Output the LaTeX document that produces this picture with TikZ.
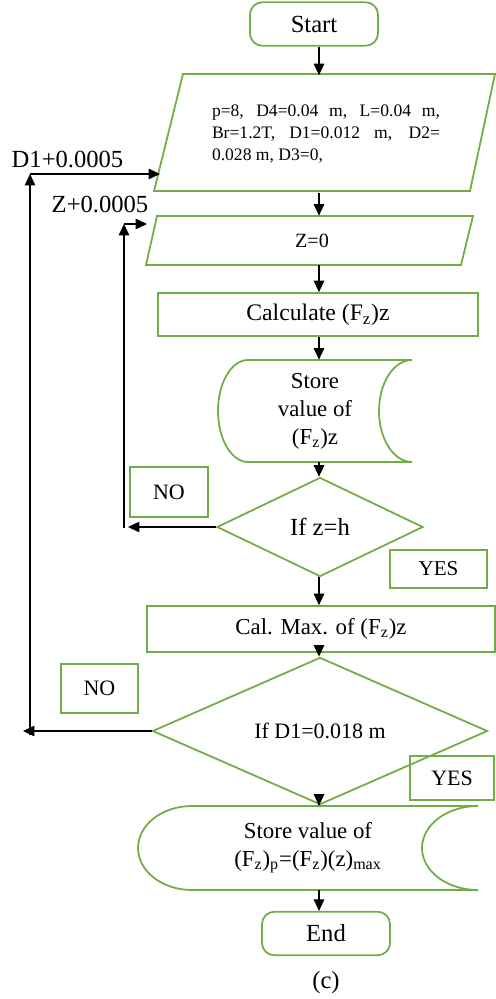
\documentclass[tikz,border=0pt]{standalone}
\usepackage{fontspec}
\setmainfont{Liberation Serif}
\usetikzlibrary{arrows.meta, shapes.geometric}
\definecolor{flowgreen}{RGB}{112,173,71}
\tikzset{
    flow/.style={draw=flowgreen, line width=1pt}, % green outlines
    term/.style={flow, rounded corners=7pt, minimum width=2.56cm, minimum height=0.87cm},
    proc/.style={flow, rectangle, font=\fontsize{13.5}{16}\selectfont},
    cond/.style={flow, diamond, inner sep=0pt},
    tag/.style={flow, rectangle, inner sep=0pt, font=\fontsize{12.5}{15}\selectfont},
    shapetext/.style={inner sep=0pt, align=center},
    arr/.style={-{Triangle[length=6.5pt, width=6pt]}, line width=0.6pt}
}

\begin{document}
\begin{tikzpicture}[x=0.2mm, y=-0.2mm, font=\fontsize{14}{16}\selectfont]
    \useasboundingbox (0,0) rectangle (496,999);
    \coordinate (axis) at (319,0);

    % terminals
    \node[term] (start) at (314,24) {Start};
    \node[term] (end) at (326,933.5) {End};

    % input data
    \draw[flow] (183,74) -- (495,74) -- (470,191) -- (154,191) -- cycle;
    \node[shapetext, align=left, minimum height=2.34cm, font=\fontsize{10}{12.5}\selectfont] (input) at (326,134) {\makebox[4.56cm][s]{p=8, D4=0.04 m, L=0.04 m,}\\\makebox[4.56cm][s]{Br=1.2T, D1=0.012 m, D2=}\\0.028 m, D3=0,};

    \draw[flow] (157,216) -- (473,216) -- (461,265) -- (146,265) -- cycle;
    \node[shapetext, minimum height=0.98cm, font=\fontsize{11.5}{14}\selectfont] (zinit) at (312,240.5) {Z=0};

    \node[proc, minimum width=6.4cm, minimum height=0.86cm] (calc) at (318,314.5) {Calculate (F\textsubscript{z})z};

    % stored data
    \draw[flow] (248,360) -- (412,360) arc[start angle=90, end angle=270, x radius=6.6mm, y radius=10.2mm] -- (248,462) arc[start angle=270, end angle=90, x radius=6mm, y radius=10.2mm] -- cycle;
    \node[shapetext, minimum height=2.04cm, font=\fontsize{13}{16}\selectfont] (store) at (315,411) {Store\\value of\\(F\textsubscript{z})z};

    \node[cond, minimum width=4.12cm, minimum height=1.98cm, font=\fontsize{14}{16}\selectfont] (zcheck) at (320,527) {If z=h};
    \node[tag, minimum width=1.56cm, minimum height=1cm] (zno) at (169,492) {NO};
    \node[tag, minimum width=1.94cm, minimum height=0.76cm, font=\fontsize{12}{14}\selectfont] (zyes) at (438.5,569) {YES};

    \node[proc, minimum width=6.96cm, minimum height=0.92cm, font=\fontsize{13}{16}\selectfont] (calmax) at (321,629) {Cal. Max. of (F\textsubscript{z})z};

    \node[cond, minimum width=6.7cm, minimum height=1.84cm, font=\fontsize{12.5}{15}\selectfont] (dcheck) at (320,731) {If D1=0.018 m};
    \node[tag, minimum width=1.54cm, minimum height=0.98cm] (dno) at (99.5,688.5) {NO};
    \node[tag, minimum width=1.68cm, minimum height=0.88cm] (dyes) at (452,778) {YES};

    \draw[flow] (192,806) -- (478,806) arc[start angle=90, end angle=270, x radius=11.2mm, y radius=8.4mm] -- (192,890) arc[start angle=270, end angle=90, x radius=10.8mm, y radius=8.4mm] -- cycle;
    \node[shapetext, minimum height=1.68cm, font=\fontsize{13}{16}\selectfont] (result) at (308,848) {Store value of\\(F\textsubscript{z})\textsubscript{p}=(F\textsubscript{z})(z)\textsubscript{max}};

    % loop labels and caption
    \node (dstep) at (67.5,159) {D1+0.0005};
    \node (zstep) at (100,204) {Z+0.0005};
    \node (caption) at (326,983) {(c)};

    % main flow
    \foreach \a/\b in {start/input, input/zinit, zinit/calc, calc/store, store/zcheck, zcheck/calmax, calmax/dcheck, dcheck/result, result/end}
        \draw[arr] (\a.south -| axis) -- (\b.north -| axis);

    % inner loop over z
    \coordinate (zleft) at (128,527);
    \coordinate (zfoot) at (124,528);
    \coordinate (zcorner) at (124,224);
    \coordinate (zend) at (147,224);
    \draw[arr] (zcheck.west) -- (zleft);
    \draw[arr] (zfoot) -- (zcorner);
    \draw[arr] (zcorner) -- (zend);

    % outer loop over D1
    \coordinate (dleft) at (23,731);
    \coordinate (dfoot) at (30,735);
    \coordinate (dcorner) at (30,174);
    \coordinate (dend) at (160,174);
    \draw[arr] (dcheck.west) -- (dleft);
    \draw[arr] (dfoot) -- (dcorner);
    \draw[arr] (dcorner) -- (dend);
\end{tikzpicture}
\end{document}
